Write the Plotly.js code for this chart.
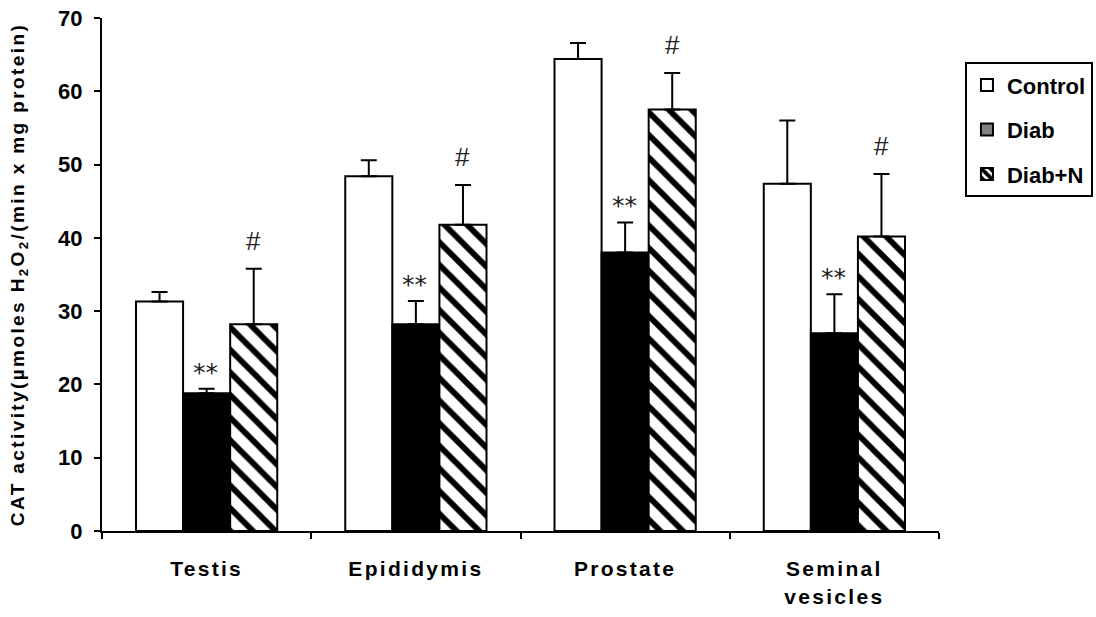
<!DOCTYPE html>
<html>
<head>
<meta charset="utf-8">
<script src="https://cdn.plot.ly/plotly-3.0.1.min.js"></script>
<style>
html,body{margin:0;padding:0;background:#fff;}
#chart{width:1096px;height:617px;}
#chart .xtick text{letter-spacing:2.3px;}
#chart .ytitle{letter-spacing:2.4px;}
</style>
</head>
<body>
<div id="chart"></div>
<script>
const categories = ["Testis", "Epididymis", "Prostate", "Seminal<br>vesicles"];
const seriesNames = ["Control", "Diab", "Diab+N"];
const controlValues = [31.3, 48.4, 64.4, 47.4];
const controlErr = [1.3, 2.2, 2.2, 8.6];
const diabValues = [18.8, 28.2, 38.0, 27.0];
const diabErr = [0.6, 3.2, 4.1, 5.3];
const diabNValues = [28.2, 41.8, 57.5, 40.2];
const diabNErr = [7.6, 5.4, 5.0, 8.5];
const diabMarks = ["**", "**", "**", "**"];
const diabNMarks = ["#", "#", "#", "#"];

const FONT = "Liberation Sans, Arial, sans-serif";
const zeros = categories.map(() => 0);

function errBar(arr) {
  return {type: "data", array: arr, arrayminus: zeros, symmetric: false, visible: true,
          color: "#000", thickness: 2, width: 8};
}

const traces = [
  {type: "bar", name: seriesNames[0], x: categories, y: controlValues, error_y: errBar(controlErr),
   marker: {color: "#fff", line: {color: "#000", width: 2}}, showlegend: false},
  {type: "bar", name: seriesNames[1], x: categories, y: diabValues, error_y: errBar(diabErr),
   marker: {color: "#000", line: {color: "#000", width: 2}}, showlegend: false},
  {type: "bar", name: seriesNames[2], x: categories, y: diabNValues, error_y: errBar(diabNErr),
   marker: {color: "#fff", line: {color: "#000", width: 2},
            pattern: {shape: "\\", fgcolor: "#000", bgcolor: "#fff", size: 16, solidity: 0.36}},
   showlegend: false},
  // legend swatches
  {type: "bar", name: seriesNames[0], x: [null], y: [null], xaxis: "x2", yaxis: "y2", legendgroup: "a",
   marker: {color: "#fff", line: {color: "#000", width: 2}}},
  {type: "bar", name: seriesNames[1], x: [null], y: [null], xaxis: "x2", yaxis: "y2", legendgroup: "b",
   marker: {color: "#808080", line: {color: "#000", width: 2}}},
  {type: "bar", name: seriesNames[2], x: [null], y: [null], xaxis: "x2", yaxis: "y2", legendgroup: "c",
   marker: {color: "#fff", line: {color: "#000", width: 2},
            pattern: {shape: "\\", fgcolor: "#000", bgcolor: "#fff", size: 8, solidity: 0.6}}}
];

const annotations = [];
categories.forEach((c, i) => {
  annotations.push({x: c, y: diabValues[i] + diabErr[i], xref: "x", yref: "y", text: diabMarks[i],
    showarrow: false, yanchor: "bottom", yshift: 0, xshift: -1,
    font: {family: "DejaVu Sans, sans-serif", size: 25, color: "#222"}});
  annotations.push({x: c, y: diabNValues[i] + diabNErr[i], xref: "x", yref: "y", text: diabNMarks[i],
    showarrow: false, yanchor: "bottom", yshift: 11, xshift: 47,
    font: {family: FONT, size: 26, color: "#222"}});
});

const layout = {
  width: 1096, height: 617,
  margin: {l: 102, r: 157, t: 18, b: 86, autoexpand: false},
  paper_bgcolor: "#fff", plot_bgcolor: "#fff",
  font: {family: FONT, color: "#000"},
  barmode: "group", bargap: 0.325, bargroupgap: 0,
  showlegend: true,
  legend: {x: 1.031, y: 0.914, xanchor: "left", yanchor: "top",
           bordercolor: "#000", borderwidth: 2, bgcolor: "#fff",
           font: {family: FONT, size: 22, color: "#000", weight: "bold"},
           traceorder: "grouped", tracegroupgap: 13},
  xaxis: {type: "category", showline: true, linecolor: "#000", linewidth: 2,
          ticks: "outside", tickson: "boundaries", ticklen: 6, tickwidth: 2, tickcolor: "#000",
          showgrid: false, zeroline: false, ticklabelstandoff: 18,
          tickfont: {family: FONT, size: 21, color: "#000", weight: "bold"}},
  yaxis: {range: [0, 70], dtick: 10, showline: true, linecolor: "#000", linewidth: 2,
          ticks: "outside", ticklen: 6, tickwidth: 2, tickcolor: "#000",
          showgrid: false, zeroline: false, ticklabelstandoff: 7,
          tickfont: {family: FONT, size: 22, color: "#000", weight: "bold"},
          title: {text: "CAT activity(µmoles H<sub>2</sub>O<sub>2</sub>/(min x mg protein)",
                  font: {family: FONT, size: 19, color: "#000", weight: "bold"}, standoff: 28}},
  xaxis2: {overlaying: "x", visible: false},
  yaxis2: {overlaying: "y", visible: false},
  annotations: annotations
};

Plotly.newPlot("chart", traces, layout, {displayModeBar: false, staticPlot: true});
</script>
</body>
</html>
